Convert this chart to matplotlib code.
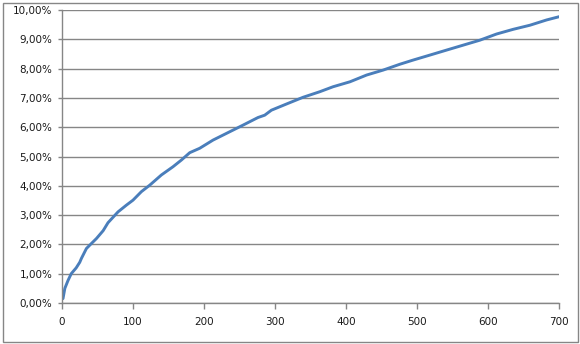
import matplotlib
matplotlib.use("Agg")
import matplotlib.pyplot as plt
from matplotlib.ticker import FuncFormatter, MultipleLocator
from matplotlib.patches import Rectangle

# values (x, percent)
steps = [0, 1.4, 4, 8.5, 13, 20, 25, 27.3, 34.4, 41.4, 48.5, 58, 64.8, 78.9, 90.7,
         100, 111.8, 123.5, 140, 156.3, 168.2, 179.9, 193.9, 212.7, 240.8, 254.9,
         276, 285.5, 294.9, 316, 339.4, 363, 381.7, 405.6, 429, 452.4, 476, 494.4,
         518, 541.4, 565, 588.6, 612, 635.4, 659, 682.5, 700]
rate = [0.15, 0.15, 0.5, 0.77, 1.0, 1.2, 1.39, 1.52, 1.86, 2.03, 2.2, 2.47, 2.74,
        3.11, 3.34, 3.51, 3.80, 4.02, 4.37, 4.65, 4.88, 5.13, 5.28, 5.56, 5.90,
        6.07, 6.33, 6.41, 6.58, 6.79, 7.02, 7.21, 7.38, 7.55, 7.78, 7.95, 8.15,
        8.29, 8.46, 8.63, 8.80, 8.97, 9.18, 9.34, 9.48, 9.66, 9.77]

grey = "#868686"

fig = plt.figure(figsize=(5.8, 3.44), dpi=100)
ax = fig.add_axes([62 / 580, 1 - 303 / 344, 497 / 580, 293 / 344])

ax.plot(steps, rate, color="#4A7EBB", lw=2.1, solid_joinstyle="round")

ax.set_xlim(0, 700)
ax.set_ylim(0, 10)
ax.xaxis.set_major_locator(MultipleLocator(100))
ax.yaxis.set_major_locator(MultipleLocator(1))
ax.yaxis.set_major_formatter(FuncFormatter(lambda v, p: f"{v:.2f}".replace(".", ",") + "%"))

ax.grid(axis="y", color=grey, lw=1)
ax.set_axisbelow(True)
for s in ["top", "right"]:
    ax.spines[s].set_visible(False)
for s in ["left", "bottom"]:
    ax.spines[s].set_color(grey)
    ax.spines[s].set_linewidth(1)
ax.tick_params(axis="x", direction="out", length=4, width=1, color=grey, pad=6,
               labelsize=7.5, labelcolor="#1a1a1a")
ax.tick_params(axis="y", direction="out", length=3, width=1, color=grey, pad=4,
               labelsize=7.5, labelcolor="#1a1a1a")

fig.patches.append(Rectangle((2.5 / 580, 2.5 / 344), 575 / 580, 339 / 344,
                             transform=fig.transFigure, fill=False,
                             edgecolor=grey, lw=1))

fig.savefig("out.png", dpi=100)
